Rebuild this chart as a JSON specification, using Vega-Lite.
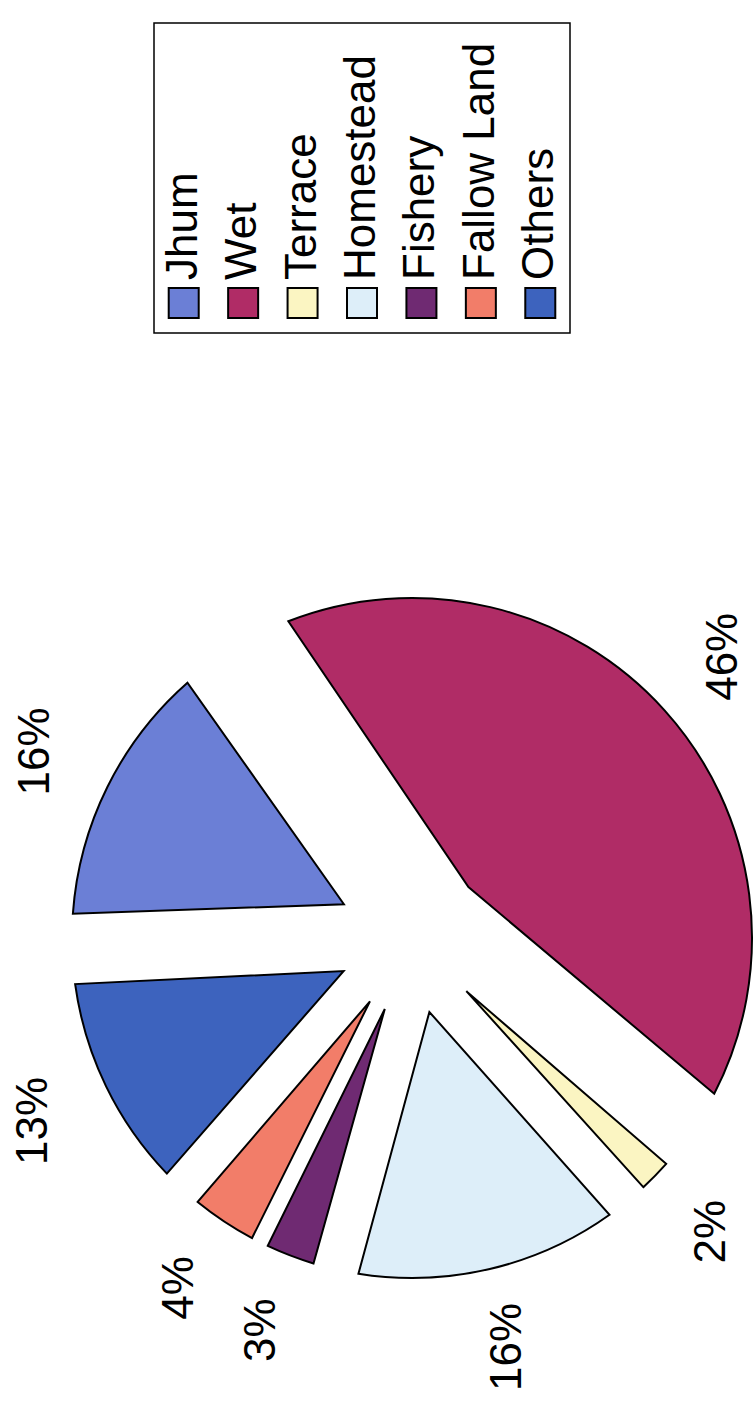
{
  "$schema": "https://vega.github.io/schema/vega-lite/v6.json",
  "autosize": {"type": "pad"},
  "padding": {"left": 0, "top": 22, "right": 0, "bottom": 0},
  "background": "white",
  "spacing": 135,
  "config": {"font": "Liberation Sans"},
  "datasets": {
    "landuse": [
      {"category": "Jhum", "share": 16, "label": "16%", "rank": 1},
      {"category": "Wet", "share": 46, "label": "46%", "rank": 2},
      {"category": "Terrace", "share": 2, "label": "2%", "rank": 3},
      {"category": "Homestead", "share": 16, "label": "16%", "rank": 4},
      {"category": "Fishery", "share": 3, "label": "3%", "rank": 5},
      {"category": "Fallow Land", "share": 4, "label": "4%", "rank": 6},
      {"category": "Others", "share": 13, "label": "13%", "rank": 7}
    ],
    "empty": []
  },
  "vconcat": [
    {
      "spacing": 20,
      "bounds": "flush",
      "hconcat": [
        {"width": 134, "height": 310, "data": {"name": "empty"}, "mark": "point", "view": {"stroke": null}},
        {
          "width": 416,
          "height": 310,
          "data": {"name": "landuse"},
          "view": {"stroke": "black", "strokeWidth": 1.5},
          "layer": [
            {
              "mark": {"type": "point", "shape": "square", "size": 900, "filled": true, "stroke": "black", "strokeWidth": 2, "opacity": 1, "yOffset": 125},
              "encoding": {
                "x": {"field": "category", "type": "nominal", "sort": ["Jhum", "Wet", "Terrace", "Homestead", "Fishery", "Fallow Land", "Others"], "axis": null},
                "color": {"field": "category", "type": "nominal", "legend": null,
                  "scale": {"domain": ["Jhum", "Wet", "Terrace", "Homestead", "Fishery", "Fallow Land", "Others"],
                            "range": ["#6B7FD6", "#B02C66", "#FBF5C2", "#DDEEF9", "#6F2A72", "#F27D69", "#3D63BE"]}}
              }
            },
            {
              "mark": {"type": "text", "angle": 270, "align": "left", "baseline": "middle", "fontSize": 44, "dx": 23, "yOffset": 125, "color": "black"},
              "encoding": {
                "x": {"field": "category", "type": "nominal", "sort": ["Jhum", "Wet", "Terrace", "Homestead", "Fishery", "Fallow Land", "Others"], "axis": null},
                "text": {"field": "category"}
              }
            }
          ]
        }
      ]
    },
    {
      "spacing": 20,
      "bounds": "flush",
      "hconcat": [
        {"width": 48, "height": 938, "data": {"name": "empty"}, "mark": "point", "view": {"stroke": null}},
        {
          "width": 688,
          "height": 938,
          "data": {"name": "landuse"},
          "view": {"stroke": null},
          "layer": [
            {
              "mark": {"type": "arc", "innerRadius": 76, "outerRadius": 340, "padAngle": {"expr": "2*asin(80*sin(PI*datum.share/100)/sqrt(76*76+340*340))"}, "stroke": "black", "strokeWidth": 2},
              "encoding": {
                "theta": {"field": "share", "type": "quantitative", "stack": true, "scale": {"range": [4.67, 10.9532]}},
                "order": {"field": "rank", "type": "quantitative"},
                "color": {"field": "category", "type": "nominal", "legend": null,
                  "scale": {"domain": ["Jhum", "Wet", "Terrace", "Homestead", "Fishery", "Fallow Land", "Others"],
                            "range": ["#6B7FD6", "#B02C66", "#FBF5C2", "#DDEEF9", "#6F2A72", "#F27D69", "#3D63BE"]}}
              }
            },
            {
              "mark": {"type": "text", "radius": 420, "angle": 270, "fontSize": 44, "align": "center", "baseline": "middle", "color": "black"},
              "encoding": {
                "theta": {"field": "share", "type": "quantitative", "stack": true, "scale": {"range": [4.67, 10.9532]}},
                "order": {"field": "rank", "type": "quantitative"},
                "text": {"field": "label"}
              }
            }
          ]
        }
      ]
    }
  ]
}
